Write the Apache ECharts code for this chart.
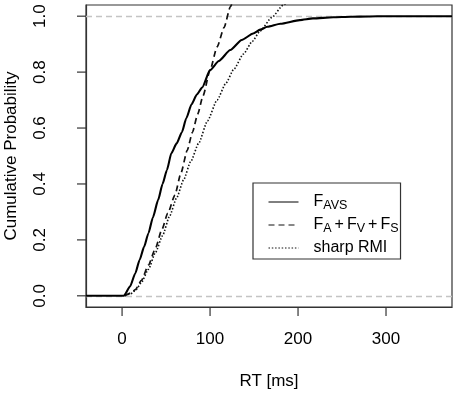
<!DOCTYPE html>
<html>
<head>
<meta charset="UTF-8">
<title>RT cumulative</title>
<script src="https://cdn.jsdelivr.net/npm/echarts@6/dist/echarts.min.js"></script>
<style>
	html, body { margin: 0; padding: 0; background: #fff; }
	#main { width: 454px; height: 395px; }
</style>
</head>
<body>
<div id="main"></div>
<script>
// F_AVS (empirical)
var avsT = [-41, 0, 2, 9, 15, 20, 25, 30, 35, 41, 46, 51, 56, 62, 68, 73, 79, 85, 91, 100, 110, 123, 136, 149, 157, 165, 180, 202, 217, 240, 260, 280, 300, 375];
var avsP = [0, 0, 0, 0.033, 0.08, 0.129, 0.175, 0.224, 0.28, 0.343, 0.40, 0.45, 0.51, 0.545, 0.585, 0.635, 0.685, 0.72, 0.745, 0.807, 0.84, 0.879, 0.915, 0.938, 0.952, 0.962, 0.973, 0.986, 0.992, 0.996, 0.998, 0.999, 1.0, 1.0];
// F_A + F_V + F_S
var sumT = [3, 10, 15, 22, 30, 38, 45, 52, 60, 67, 74, 80, 86, 92, 100, 108, 116, 123, 130];
var sumP = [0, 0.01, 0.022, 0.055, 0.11, 0.17, 0.235, 0.295, 0.36, 0.44, 0.52, 0.585, 0.65, 0.715, 0.807, 0.89, 0.96, 1.033, 1.1];
// sharp RMI
var rmiT = [3, 10, 16, 22, 30, 38, 46, 54, 62, 70, 78, 87, 97, 108, 118, 127, 138, 148, 157, 170, 183, 195];
var rmiP = [0, 0.008, 0.022, 0.048, 0.095, 0.155, 0.215, 0.285, 0.35, 0.415, 0.48, 0.545, 0.625, 0.70, 0.76, 0.81, 0.865, 0.91, 0.947, 0.995, 1.039, 1.08];

var xTicks = [0, 100, 200, 300];
var yTicks = [0, 0.2, 0.4, 0.6, 0.8, 1.0];
var refLines = [0, 1];
var names = ['FAVS', 'FA+FV+FS', 'sharp RMI'];

var X_MIN = -41, X_MAX = 375;
var Y_MIN = -0.04, Y_MAX = 1.04;
var TICK_LEN = 9;

function pairs(t, p) {
	var out = [];
	for (var i = 0; i < t.length; i++) out.push([t[i], p[i]]);
	return out;
}

var FONT = 'Liberation Sans, Arial, Helvetica, sans-serif';
var chart = echarts.init(document.getElementById('main'));

var option = {
	animation: false,
	textStyle: { fontFamily: FONT },
	grid: {
		left: 86, right: 2, top: 5, bottom: 88,
		outerBoundsMode: 'none',
		show: true, borderColor: '#333', borderWidth: 1.2
	},
	legend: {
		orient: 'vertical',
		left: 253, top: 183,
		padding: [11, 2, 3, 15],
		itemGap: 5,
		itemWidth: 30,
		itemHeight: 10,
		backgroundColor: '#fff',
		borderColor: '#333',
		borderWidth: 1.2,
		borderRadius: 0,
		lineStyle: { width: 1 },
		data: names,
		formatter: function(n) {
			if (n === 'FAVS') return '{f0|F}{s|AVS}';
			if (n === 'FA+FV+FS') return '{f0|F}{s|A}{p|+}{m|F}{s|V}{p|+}{m|F}{s|S}';
			return '{f0|sharp RMI}';
		},
		textStyle: {
			color: '#000',
			fontFamily: FONT,
			fontSize: 16,
			rich: {
				f0: { fontSize: 16, lineHeight: 20, padding: [0, 0, 0, 10], color: '#000', fontFamily: FONT },
				m: { fontSize: 16, lineHeight: 20, color: '#000', fontFamily: FONT },
				p: { fontSize: 16, lineHeight: 20, padding: [0, 3, 0, 3], color: '#000', fontFamily: FONT },
				s: { fontSize: 12.5, lineHeight: 13, verticalAlign: 'bottom', color: '#000', fontFamily: FONT }
			}
		}
	},
	xAxis: {
		type: 'value',
		min: X_MIN, max: X_MAX,
		name: 'RT [ms]',
		nameLocation: 'middle',
		nameGap: 66,
		nameTextStyle: { fontSize: 17, color: '#000', fontFamily: FONT },
		axisLine: { show: true, onZero: false, lineStyle: { color: '#333', width: 1.2 } },
		axisTick: { show: false },
		axisLabel: { customValues: xTicks, fontSize: 17, color: '#000', margin: 24, fontFamily: FONT },
		splitLine: { show: false }
	},
	yAxis: {
		type: 'value',
		min: Y_MIN, max: Y_MAX,
		name: 'Cumulative Probability',
		nameLocation: 'middle',
		nameGap: 66,
		nameTextStyle: { fontSize: 17, color: '#000', fontFamily: FONT },
		axisLine: { show: true, onZero: false, lineStyle: { color: '#333', width: 1.2 } },
		axisTick: { show: false },
		axisLabel: {
			customValues: yTicks, rotate: 90, fontSize: 17, color: '#000', margin: 37, fontFamily: FONT,
			formatter: function(v) { return v.toFixed(1); }
		},
		splitLine: { show: false }
	},
	series: [{
		name: 'FAVS',
		type: 'line',
		data: pairs(avsT, avsP),
		showSymbol: false, symbol: 'none',
		smooth: 0.2, smoothMonotone: 'x',
		lineStyle: { color: '#000', width: 2.1, type: 'solid' },
		itemStyle: { color: 'transparent' },
		z: 4,
		markLine: {
			silent: true, symbol: 'none', z: 1,
			label: { show: false },
			lineStyle: { color: '#c4c4c4', type: [6, 4], width: 1.4 },
			data: refLines.map(function(v) { return { yAxis: v }; })
		}
	}, {
		name: 'FA+FV+FS',
		type: 'line',
		data: pairs(sumT, sumP),
		showSymbol: false, symbol: 'none',
		smooth: 0.2, smoothMonotone: 'x',
		lineStyle: { color: '#111', width: 1.7, type: [6, 4] },
		itemStyle: { color: 'transparent' },
		z: 3
	}, {
		name: 'sharp RMI',
		type: 'line',
		data: pairs(rmiT, rmiP),
		showSymbol: false, symbol: 'none',
		smooth: 0.2, smoothMonotone: 'x',
		lineStyle: { color: '#111', width: 1.6, type: [1.5, 1.8] },
		itemStyle: { color: 'transparent' },
		z: 3
	}]
};
chart.setOption(option);

// outward tick marks, placed with the chart's own scales
var ticks = [];
xTicks.forEach(function(v) {
	var p = chart.convertToPixel({ gridIndex: 0 }, [v, Y_MIN]);
	ticks.push({
		type: 'line', silent: true, z: 100,
		shape: { x1: p[0], y1: p[1], x2: p[0], y2: p[1] + TICK_LEN },
		style: { stroke: '#333', lineWidth: 1.2 }
	});
});
yTicks.forEach(function(v) {
	var p = chart.convertToPixel({ gridIndex: 0 }, [X_MIN, v]);
	ticks.push({
		type: 'line', silent: true, z: 100,
		shape: { x1: p[0] - TICK_LEN, y1: p[1], x2: p[0], y2: p[1] },
		style: { stroke: '#333', lineWidth: 1.2 }
	});
});
chart.setOption({ graphic: ticks });
</script>
</body>
</html>
